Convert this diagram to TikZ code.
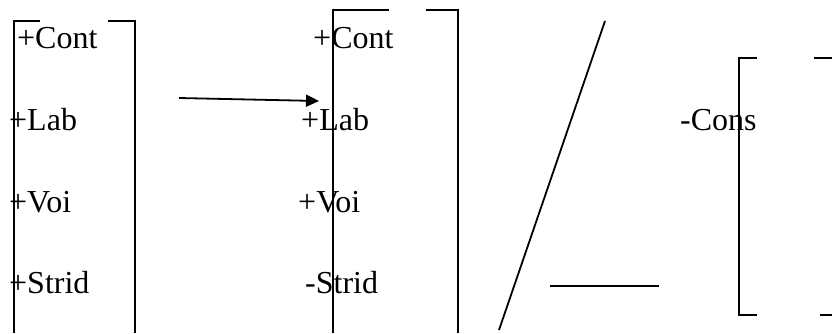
\documentclass[tikz,border=0pt]{standalone}
\usepackage{fontspec}
\setmainfont{Liberation Serif}
\usetikzlibrary{arrows.meta}
\begin{document}
\begin{tikzpicture}[x=1pt,y=-1pt,
  ln/.style={line width=1.8pt},
  lbl/.style={anchor=base west,inner sep=0pt,font=\fontsize{32}{38}\selectfont}]
\useasboundingbox (0,0) rectangle (832,333);
% first bracket
\draw[ln] (40,21) -- (14,21) -- (14,333);
\draw[ln] (108,21) -- (135,21) -- (135,333);
\node[lbl] (c1) at (17,48) {+Cont};
\node[lbl] (l1) at (9,130) {+Lab};
\node[lbl] (v1) at (9,212) {+Voi};
\node[lbl] (s1) at (9,293) {+Strid};
% arrow
\coordinate (a0) at (179,98);
\coordinate (a1) at (319,101);
\draw[ln,-{Triangle[length=13pt,width=12pt]}] (a0) -- (a1);
% second bracket
\draw[ln] (389,10) -- (333,10) -- (333,333);
\draw[ln] (426,10) -- (458,10) -- (458,333);
\node[lbl] (c2) at (313,48) {+Cont};
\node[lbl] (l2) at (301,130) {+Lab};
\node[lbl] (v2) at (298,212) {+Voi};
\node[lbl] (s2) at (305,293) {-Strid};
% slash and blank
\coordinate (p0) at (605,21);
\coordinate (p1) at (499,330);
\draw[ln] (p0) -- (p1);
\coordinate (h0) at (550,286);
\coordinate (h1) at (659,286);
\draw[ln] (h0) -- (h1);
% third bracket
\node[lbl] (cons) at (680,130) {-Cons};
\draw[ln] (757,58) -- (739,58) -- (739,315) -- (757,315);
\draw[ln] (814,58) -- (832,58);
\draw[ln] (820,315) -- (832,315);
\end{tikzpicture}
\end{document}
